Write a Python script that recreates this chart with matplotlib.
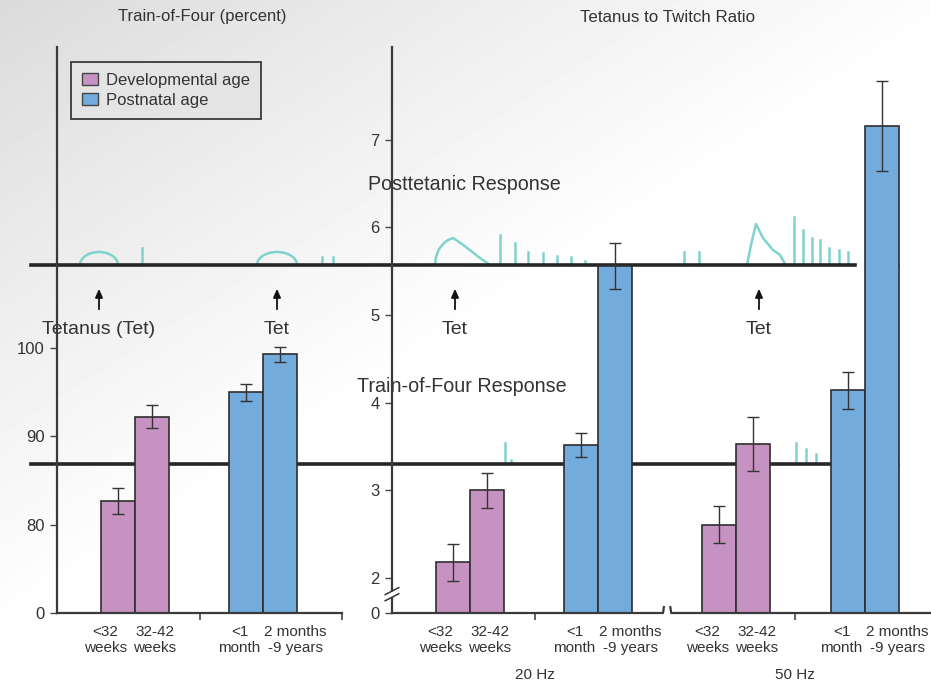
import matplotlib.pyplot as plt
import numpy as np
from matplotlib.patches import Patch

plt.rcParams['font.family'] = ['Liberation Sans', 'DejaVu Sans']

W, H = 931, 686

# ---- data ----
age_labels = ['<32\nweeks', '32-42\nweeks', '<1\nmonth', '2 months\n-9 years']
age_group = ['Developmental age', 'Developmental age', 'Postnatal age', 'Postnatal age']

tof_pct = [82.7, 92.2, 95.0, 99.3]
tof_err = [1.5, 1.3, 0.95, 0.85]

ratio_20hz = [2.18, 3.00, 3.52, 5.56]
ratio_20hz_err = [0.21, 0.20, 0.14, 0.26]
ratio_50hz = [2.61, 3.53, 4.14, 7.16]
ratio_50hz_err = [0.21, 0.31, 0.21, 0.51]
freq_labels = ['20 Hz', '50 Hz']

# schematic stimulation traces (page pixels: x position, height above baseline)
arc_x = [99, 277]
arc_hw = [19, 20]
single_x = [142, 322, 333]
single_h = [17, 8, 8]
tet20_x = [435, 436, 439, 444, 448, 453, 462, 471, 480, 490]
tet20_h = [0, 8, 16, 22, 25, 27, 21, 14, 7, 0]
post20_x = [500, 515, 528, 543, 557, 571, 585]
post20_h = [30, 22, 13, 12, 9, 8, 4]
pre50_x = [684, 699]
pre50_h = [13, 13]
tet50_x = [747, 751, 756, 763, 773, 780, 784, 786]
tet50_h = [0, 20, 41, 27, 15, 10, 3, 0]
post50_x = [794, 803, 812, 820, 829, 839, 848]
post50_h = [48, 35, 27, 25, 17, 15, 13]
tof20_x = [505, 511]
tof20_h = [21, 4]
tof50_x = [796, 806, 816]
tof50_h = [21, 15, 10]
arrow_x = [99, 277, 455, 759]
arrow_text = ['Tetanus (Tet)', 'Tet', 'Tet', 'Tet']

PINK = '#c692c1'
BLUE = '#74abdd'
EDGE = '#2e2e2e'
CYAN = '#7fd3ce'
TXT = '#333333'
bar_colors = [PINK if g == 'Developmental age' else BLUE for g in age_group]

fig = plt.figure(figsize=(W / 100, H / 100), dpi=100)

# background canvas in page pixels
bg = fig.add_axes([0, 0, 1, 1], zorder=0)
yy, xx = np.mgrid[0:H:4, 0:W:4]
t = np.clip(xx / 1000 + yy / 640, 0, 1)
shade = 0.855 + 0.145 * t ** 0.9
bg.imshow(shade, cmap='gray', vmin=0, vmax=1, extent=(0, W, H, 0),
          aspect='auto', interpolation='bilinear')
bg.set_xlim(0, W)
bg.set_ylim(H, 0)
bg.axis('off')

UP, LOW = 265, 464
for yb in (UP, LOW):
    bg.plot([31, 855], [yb, yb], color='#262626', lw=2.6, zorder=3)
    bg.plot([897], [yb], marker='o', ms=2.5, color='#444444', zorder=3)

th = np.linspace(0, np.pi, 50)
for cx, hw in zip(arc_x, arc_hw):
    bg.plot(cx + hw * np.cos(th), UP - 13 * np.sin(th), color=CYAN, lw=1.8, zorder=2)

def ticks(xs, hs, yb):
    for x, h in zip(xs, hs):
        bg.plot([x, x], [yb, yb - h], color=CYAN, lw=1.8, zorder=2)

ticks(single_x, single_h, UP)
ticks(post20_x, post20_h, UP)
ticks(pre50_x, pre50_h, UP)
ticks(post50_x, post50_h, UP)
ticks(tof20_x, tof20_h, LOW)
ticks(tof50_x, tof50_h, LOW)
bg.plot(tet20_x, [UP - h for h in tet20_h], color=CYAN, lw=1.8, zorder=2)
bg.plot(tet50_x, [UP - h for h in tet50_h], color=CYAN, lw=1.8, zorder=2)

for x, s in zip(arrow_x, arrow_text):
    bg.annotate('', xy=(x, 286), xytext=(x, 312),
                arrowprops=dict(arrowstyle='-|>,head_length=0.5,head_width=0.22',
                                color='#111111', lw=1.3))
    bg.text(x, 330, s, ha='center', va='center', fontsize=14, color=TXT)

bg.text(368, 184, 'Posttetanic Response', ha='left', va='center', fontsize=14.2, color=TXT)
bg.text(357, 386, 'Train-of-Four Response', ha='left', va='center', fontsize=14.2, color=TXT)
bg.text(202, 17, 'Train-of-Four (percent)', ha='center', va='center', fontsize=12, color=TXT)
bg.text(668, 17, 'Tetanus to Twitch Ratio', ha='center', va='center', fontsize=12.2, color=TXT)


def px_rect(x0, x1, y_top, y_bot):
    return [x0 / W, 1 - y_bot / H, (x1 - x0) / W, (y_bot - y_top) / H]


bar_pos = np.array([1.78, 2.78, 5.57, 6.57])
lbl_shift = np.array([-0.35, 0.1, -0.2, 0.45])


def style(ax):
    ax.set_facecolor('none')
    for s in ('top', 'right'):
        ax.spines[s].set_visible(False)
    for s in ('left', 'bottom'):
        ax.spines[s].set_linewidth(1.6)
        ax.spines[s].set_color('#3a3a3a')
    ax.tick_params(axis='y', direction='out', length=5, width=1, color='#444444',
                   labelsize=12, labelcolor=TXT, pad=4)
    ax.tick_params(axis='x', which='major', length=0, pad=9,
                   labelsize=11, labelcolor=TXT)
    ax.tick_params(axis='x', which='minor', length=5, width=1.2, color='#444444')


# ---- left panel: train-of-four percent ----
axL = fig.add_axes(px_rect(57, 342, 47, 613), zorder=2)
style(axL)
L0 = 70.0
axL.bar(bar_pos, np.array(tof_pct) - L0, bottom=L0, width=1.0, color=bar_colors,
        edgecolor=EDGE, linewidth=1.2, zorder=2)
axL.errorbar(bar_pos, tof_pct, yerr=tof_err, fmt='none', ecolor='#333333',
             elinewidth=1, capsize=4, capthick=1, zorder=3)
axL.set_xlim(0, 8.38)
axL.set_ylim(L0, 134.1)
axL.set_yticks([70, 80, 90, 100], ['0', '80', '90', '100'])
axL.set_xticks(bar_pos + lbl_shift, age_labels)
axL.set_xticks([4.2, 8.38], minor=True)
for lab in axL.get_xticklabels():
    lab.set_linespacing(1.1)

handles = [Patch(facecolor=PINK, edgecolor='#444444', label='Developmental age'),
           Patch(facecolor=BLUE, edgecolor='#444444', label='Postnatal age')]
leg = axL.legend(handles=handles, loc='upper left', bbox_to_anchor=(0.049, 0.973),
                 borderaxespad=0, fancybox=False, fontsize=12, handlelength=1.0,
                 handleheight=0.75, handletextpad=0.45, labelspacing=0.3,
                 borderpad=0.65, framealpha=1, facecolor='#e4e4e4')
leg.get_frame().set_edgecolor('#3a3a3a')
leg.get_frame().set_linewidth(1.3)
for tx in leg.get_texts():
    tx.set_color(TXT)

# ---- right panel: tetanus to twitch ratio ----
axR = fig.add_axes(px_rect(392, 931, 47, 613), zorder=2)
style(axR)
axR.spines['bottom'].set_visible(False)
R0 = 1.60
shift50 = 7.85
for k, (vals, errs) in enumerate([(ratio_20hz, ratio_20hz_err), (ratio_50hz, ratio_50hz_err)]):
    xs = bar_pos + k * shift50
    axR.bar(xs, np.array(vals) - R0, bottom=R0, width=1.0, color=bar_colors,
            edgecolor=EDGE, linewidth=1.2, zorder=2)
    axR.errorbar(xs, vals, yerr=errs, fmt='none', ecolor='#333333',
                 elinewidth=1, capsize=4, capthick=1, zorder=3)
axR.set_xlim(0, 15.85)
axR.set_ylim(R0, 8.06)
axR.set_yticks([R0, 2, 3, 4, 5, 6, 7], ['0', '2', '3', '4', '5', '6', '7'])
axR.set_xticks(np.concatenate([bar_pos + lbl_shift, bar_pos + shift50 + lbl_shift]),
               age_labels * 2)
for lab in axR.get_xticklabels():
    lab.set_linespacing(1.1)
group_mid = [4.2, 11.85]
axR.set_xticks(group_mid, minor=True)

# split x axis with hooked ends
axR.plot([0, 7.97, 8.0], [R0, R0, R0 + 0.08], color='#3a3a3a', lw=1.6,
         clip_on=False, zorder=4, solid_capstyle='butt')
axR.plot([8.18, 8.21, 15.85], [R0 + 0.08, R0, R0], color='#3a3a3a', lw=1.6,
         clip_on=False, zorder=4, solid_capstyle='butt')
# axis break marks
axR.fill([-0.2, 0.2, 0.2, -0.2], [1.75, 1.82, 1.87, 1.80], color='white',
         clip_on=False, zorder=5)
for y0 in (1.74, 1.81):
    axR.plot([-0.2, 0.2], [y0, y0 + 0.08], color='#333333', lw=1.1,
             clip_on=False, zorder=6)

for xm, s in zip(group_mid, freq_labels):
    axR.annotate(s, xy=(xm, 0), xycoords=('data', 'axes fraction'),
                 xytext=(0, -44.5), textcoords='offset points',
                 ha='center', va='center', fontsize=11, color=TXT)

fig.savefig('out.png', dpi=100)
